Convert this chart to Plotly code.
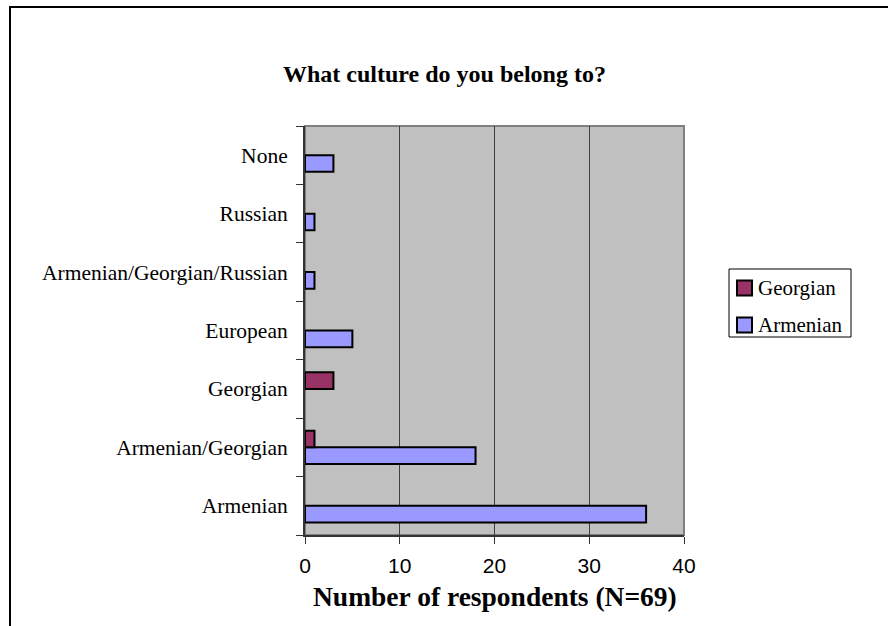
import plotly.graph_objects as go

# Survey answers, listed bottom to top as they appear on the category axis
categories = ["Armenian", "Armenian/Georgian", "Georgian", "European",
              "Armenian/Georgian/Russian", "Russian", "None"]
armenian = [36, 18, None, 5, 1, 1, 3]
georgian = [None, 1, 3, None, None, None, None]
x_ticks = [0, 10, 20, 30, 40]

series_names = ["Georgian", "Armenian"]
series_colors = {"Georgian": "#993366", "Armenian": "#9999FF"}

W, H = 888, 626
L, R, T, B = 305, 204, 126, 91
pw, ph = W - L - R, H - T - B


def px_x(p):
    return (p - L) / pw


def px_y(p):
    return (H - B - p) / ph


serif = "Liberation Serif, Times New Roman, serif"
sans = "Liberation Sans, Arial, sans-serif"

fig = go.Figure()
fig.add_trace(go.Bar(
    y=categories, x=armenian, orientation="h", name="Armenian",
    marker=dict(color=series_colors["Armenian"], line=dict(color="black", width=2)),
))
fig.add_trace(go.Bar(
    y=categories, x=georgian, orientation="h", name="Georgian",
    marker=dict(color=series_colors["Georgian"], line=dict(color="black", width=2)),
))

shapes = [
    # plot-area frame
    dict(type="rect", xref="paper", yref="paper", x0=0, x1=1, y0=0, y1=1,
         line=dict(color="#808080", width=2), layer="below"),
    # outer chart border
    dict(type="rect", xref="paper", yref="paper",
         x0=px_x(10), x1=px_x(900), y0=px_y(640), y1=px_y(7),
         line=dict(color="black", width=2)),
    # legend box
    dict(type="rect", xref="paper", yref="paper",
         x0=px_x(729), x1=px_x(851), y0=px_y(337), y1=px_y(269),
         line=dict(color="black", width=1), fillcolor="white"),
]

annotations = [
    dict(text="<b>What culture do you belong to?</b>", xref="paper", yref="paper",
         x=px_x(444), y=px_y(74), xanchor="center", yanchor="middle",
         showarrow=False, font=dict(family=serif, size=24, color="black")),
    dict(text="<b>Number of respondents (N=69)</b>", xref="paper", yref="paper",
         x=px_x(495), y=px_y(596), xanchor="center", yanchor="middle",
         showarrow=False, font=dict(family=serif, size=27.5, color="black")),
]

# legend entries: swatch + label
entry_centers = [288, 325]
for name, cy in zip(series_names, entry_centers):
    shapes.append(dict(type="rect", xref="paper", yref="paper",
                       x0=px_x(737), x1=px_x(752), y0=px_y(cy + 7.5), y1=px_y(cy - 7.5),
                       line=dict(color="black", width=2),
                       fillcolor=series_colors[name]))
    annotations.append(dict(text=name, xref="paper", yref="paper",
                            x=px_x(756), y=px_y(cy), xanchor="left", yanchor="middle",
                            showarrow=False,
                            font=dict(family=serif, size=21, color="black")))

fig.update_layout(
    width=W, height=H,
    margin=dict(l=L, r=R, t=T, b=B, pad=0),
    paper_bgcolor="white",
    plot_bgcolor="#C0C0C0",
    barmode="group",
    bargap=0.43,
    bargroupgap=0,
    showlegend=False,
    xaxis=dict(
        range=[0, 40], tickvals=x_ticks, ticktext=[str(v) for v in x_ticks],
        showgrid=True, gridcolor="#404040", gridwidth=1,
        zeroline=False,
        showline=True, linecolor="#333333", linewidth=2,
        ticks="outside", ticklen=7, tickcolor="#333333", tickwidth=1,
        ticklabelstandoff=4,
        tickfont=dict(family=sans, size=21, color="black"),
        fixedrange=True,
    ),
    yaxis=dict(
        categoryorder="array", categoryarray=categories,
        showgrid=False, zeroline=False,
        showline=True, linecolor="#333333", linewidth=2,
        ticks="outside", ticklen=7, tickcolor="#333333", tickwidth=1,
        tickson="boundaries",
        ticklabelstandoff=11,
        tickfont=dict(family=serif, size=21.5, color="black"),
        fixedrange=True,
    ),
    shapes=shapes,
    annotations=annotations,
)

fig.write_html("out.html")
